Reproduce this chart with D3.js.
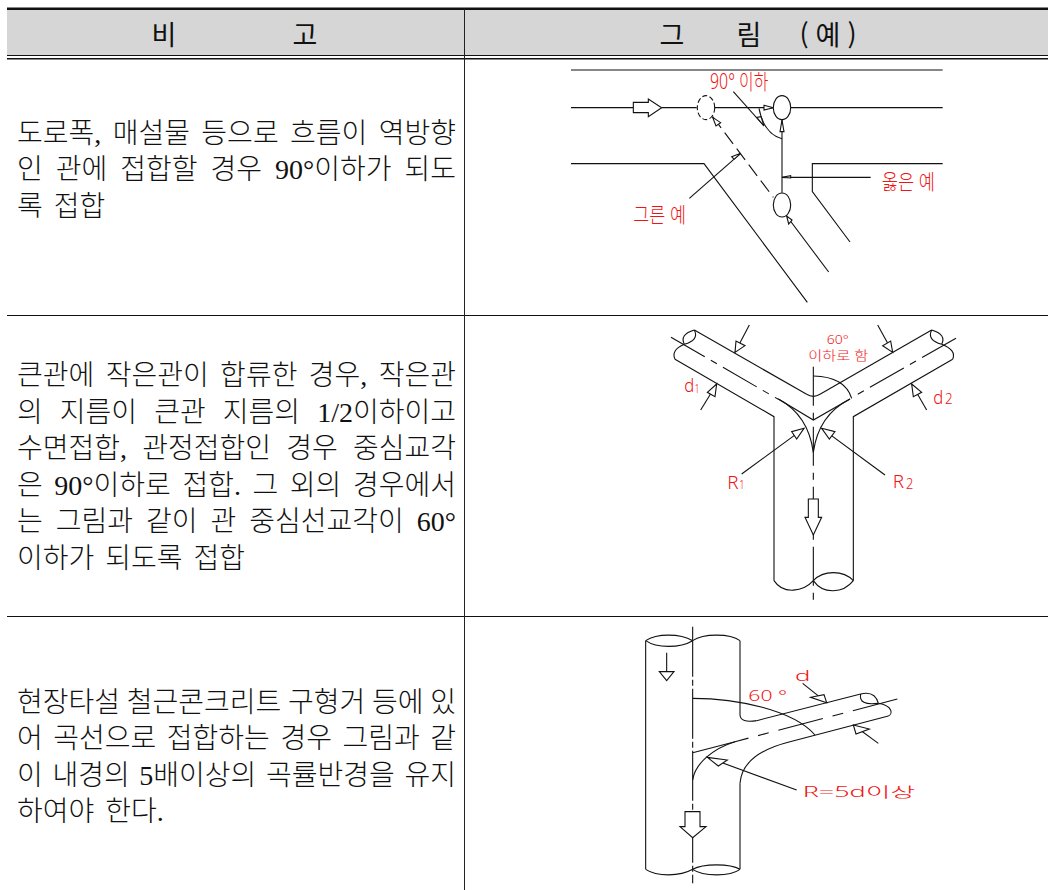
<!DOCTYPE html>
<html lang="ko">
<head>
<meta charset="utf-8">
<script src="https://cdn.jsdelivr.net/npm/d3@7"></script>
<style>
  html, body { margin: 0; padding: 0; background: #fff; }
  svg { display: block; }
  .body-text { font-family: "Liberation Serif", "Noto Sans CJK KR", serif; font-size: 28px; font-weight: 300; fill: #111; }
  .head-text { font-family: "Noto Sans CJK KR", sans-serif; font-size: 27px; font-weight: 400; fill: #111; }
  .label { font-family: "Noto Sans", "Noto Sans CJK KR", sans-serif; font-weight: 300; fill: #f01414; }
  .ink { fill: none; stroke: #111; stroke-width: 1.1; }
  .ink-solid { fill: #fff; stroke: #111; stroke-width: 1.1; }
</style>
</head>
<body>
<div id="chart"></div>
<script>
const width = 1048;
const height = 890;

// table
const tableLeft = 7;
const columnRule = 464;
const rowRules = [316, 617];
const headerLabels = [["비", 164], ["고", 305], ["그", 672], ["림", 749], ["(", 804], ["예", 828], [")", 852]];
const rowLines = [
  { baseline: 142.5, lines: ["도로폭, 매설물 등으로 흐름이 역방향", "인 관에 접합할 경우 90°이하가 되도", "록 접합"] },
  { baseline: 385, lines: ["큰관에 작은관이 합류한 경우, 작은관", "의 지름이 큰관 지름의 1/2이하이고", "수면접합, 관정접합인 경우 중심교각", "은 90°이하로 접합. 그 외의 경우에서", "는 그림과 같이 관 중심선교각이 60°", "이하가 되도록 접합"] },
  { baseline: 711.5, lines: ["현장타설 철근콘크리트 구형거 등에 있", "어 곡선으로 접합하는 경우 그림과 같", "이 내경의 5배이상의 곡률반경을 유지", "하여야 한다."] }
];

// figure 1, in crop units (3 per pixel)
const roadLines = [
  [[33, 30], [1148, 30]],
  [[33, 143], [220, 143]],
  [[305, 143], [410, 143]],
  [[465, 143], [640, 143]],
  [[692, 143], [1148, 143]],
  [[666, 180], [666, 398]],
  [[520, 95], [612, 198]],
  [[33, 311], [432, 311], [742, 727]],
  [[1148, 311], [757, 311], [757, 395], [870, 546]],
  [[680, 468], [806, 636]],
  [[388, 415], [542, 280]],
  [[666, 352], [932, 352]]
];
const roadCurves = [[597, 145, 612, 222, 666, 236]];
const roadDashes = [[[458, 170], [640, 412]]];
const roadHeads = [
  [[220, 127], [265, 127], [265, 117], [305, 143], [265, 170], [265, 158], [220, 158]],
  [[612, 136], [640, 143], [612, 150]],
  [[660, 215], [666, 180], [672, 215]],
  [[590, 172], [612, 198], [603, 170]],
  [[696, 480], [680, 468], [686, 492]],
  [[458, 172], [482, 188], [468, 198]],
  [[515, 290], [542, 280], [522, 298]],
  [[666, 352], [692, 347], [692, 354]]
];
const roadManholes = [[666, 143], [666, 435]];
const roadDashedManholes = [[438, 143]];
const roadLabels = [
  { text: "90° 이하", x: 450, y: 86, w: 175, size: 21 },
  { text: "옳은 예", x: 965, y: 387, w: 160, size: 21 },
  { text: "그른 예", x: 220, y: 485, w: 158, size: 21 }
];

// figure 2
const junctionLines = [
  [[133, 45], [470, 238]],
  [[510, 238], [845, 45]],
  [[75, 133], [372, 305], [372, 797]],
  [[908, 133], [610, 305], [610, 797]],
  [[385, 252], [490, 315], [600, 252]],
  [[298, 30], [255, 112]],
  [[683, 30], [728, 112]],
  [[152, 285], [200, 207]],
  [[830, 285], [785, 207]],
  [[275, 477], [462, 340]],
  [[705, 480], [515, 340]]
];
const junctionCurves = [
  [470, 238, 490, 250, 510, 238],
  [133, 45, 88, 58, 103, 88],
  [133, 45, 148, 75, 103, 88],
  [103, 88, 62, 105, 75, 133],
  [845, 45, 890, 58, 875, 88],
  [845, 45, 830, 75, 875, 88],
  [875, 88, 920, 105, 908, 133],
  [385, 252, 475, 300, 490, 412],
  [600, 252, 505, 300, 490, 412],
  [490, 183, 585, 185, 605, 250],
  [372, 797, 400, 840, 460, 830, 490, 797],
  [490, 797, 520, 765, 580, 765, 610, 797],
  [490, 797, 520, 840, 580, 835, 610, 797]
];
const junctionDashes = [
  [[63, 67], [385, 253]],
  [[918, 70], [610, 245]]
];
const junctionCenter = [[[490, 155], [490, 875]]];
const junctionHeads = [
  [[255, 112], [285, 92], [258, 78]],
  [[728, 112], [698, 92], [722, 78]],
  [[200, 207], [172, 232], [195, 245]],
  [[785, 207], [815, 232], [790, 245]],
  [[462, 340], [425, 350], [440, 372]],
  [[515, 340], [555, 350], [538, 372]],
  [[475, 552], [505, 552], [505, 607], [515, 607], [490, 660], [465, 607], [475, 607]]
];
const junctionLabels = [
  { text: "60°", x: 530, y: 88, w: 66, size: 13 },
  { text: "이하로 함", x: 475, y: 136, w: 180, size: 13 },
  { text: "d", x: 103, y: 232, w: 30, size: 19 },
  { text: "1", x: 134, y: 233, w: 14, size: 12 },
  { text: "d", x: 850, y: 268, w: 30, size: 19 },
  { text: "2", x: 885, y: 268, w: 23, size: 15 },
  { text: "R", x: 232, y: 522, w: 34, size: 19 },
  { text: "1", x: 268, y: 523, w: 16, size: 13 },
  { text: "R", x: 728, y: 520, w: 34, size: 19 },
  { text: "2", x: 768, y: 521, w: 22, size: 15 }
];

// figure 3
const bendLines = [
  [[77, 62], [77, 748]],
  [[360, 62], [360, 285]],
  [[410, 302], [722, 222]],
  [[805, 288], [510, 365]],
  [[360, 490], [360, 748]],
  [[218, 398], [345, 365]],
  [[140, 98], [140, 180]],
  [[548, 190], [620, 248]],
  [[775, 370], [700, 315]],
  [[530, 510], [262, 412]]
];
const bendCurves = [
  [77, 62, 110, 40, 180, 40, 218, 62],
  [77, 62, 110, 85, 180, 85, 218, 62],
  [218, 62, 250, 40, 330, 40, 360, 62],
  [77, 748, 110, 770, 180, 770, 218, 748],
  [218, 748, 250, 730, 330, 730, 360, 748],
  [218, 748, 250, 770, 330, 770, 360, 748],
  [360, 285, 362, 310, 410, 302],
  [722, 222, 765, 212, 775, 250],
  [722, 222, 715, 258, 775, 250],
  [775, 250, 820, 258, 818, 282, 805, 288],
  [510, 365, 430, 385, 365, 420, 360, 490],
  [218, 480, 225, 430, 280, 385, 345, 365],
  [218, 235, 350, 235, 520, 270, 585, 345]
];
const bendCenter = [[[218, 20], [218, 790]]];
const bendDashes = [[[832, 237], [345, 365]]];
const bendHeads = [
  [[118, 155], [162, 155], [140, 182]],
  [[195, 575], [240, 575], [240, 620], [258, 620], [218, 653], [180, 620], [195, 620]],
  [[620, 248], [572, 232], [612, 224]],
  [[700, 315], [748, 327], [708, 342]],
  [[262, 412], [322, 420], [295, 438]]
];
const bendLabels = [
  { text: "d", x: 525, y: 183, w: 46, size: 15 },
  { text: "60 °", x: 385, y: 243, w: 116, size: 14 },
  { text: "R=5d이상", x: 548, y: 530, w: 338, size: 14 }
];

const svg = d3.select("#chart").append("svg")
  .attr("width", width)
  .attr("height", height)
  .attr("viewBox", `0 0 ${width} ${height}`);

// table frame
svg.append("rect").attr("x", tableLeft).attr("y", 9).attr("width", width - tableLeft).attr("height", 46).attr("fill", "#d6d6d6");

const rules = [
  { y: 8.7, w: 2.6 },
  { y: 55.5, w: 1 },
  { y: 58.7, w: 1.4 },
  ...rowRules.map((y) => ({ y: y - 0.5, w: 1 }))
];
svg.append("g").selectAll("line").data(rules).join("line")
  .attr("x1", tableLeft)
  .attr("x2", width)
  .attr("y1", (d) => d.y)
  .attr("y2", (d) => d.y)
  .attr("stroke", "#111")
  .attr("stroke-width", (d) => d.w);

svg.append("line")
  .attr("x1", columnRule + 0.5).attr("x2", columnRule + 0.5)
  .attr("y1", 9).attr("y2", height)
  .attr("stroke", "#222").attr("stroke-width", 1);

svg.append("g").selectAll("text").data(headerLabels).join("text")
  .attr("class", "head-text")
  .attr("x", (d) => d[1])
  .attr("y", 45)
  .attr("text-anchor", "middle")
  .text((d) => d[0]);

// justified body text
const textLeft = 17;
const textRight = 456;
const linePitch = 36.5;
const textGroup = svg.append("g");
rowLines.forEach((row) => {
  row.lines.forEach((line, i) => {
    const t = textGroup.append("text")
      .attr("class", "body-text")
      .attr("x", textLeft)
      .attr("y", row.baseline + i * linePitch)
      .text(line);
    if (i < row.lines.length - 1) {
      const gaps = line.split(" ").length - 1;
      const spare = textRight - textLeft - t.node().getComputedTextLength();
      t.attr("word-spacing", spare / gaps);
    } else {
      t.attr("word-spacing", 4);
    }
  });
});

// one figure = crop coordinates mapped onto the page
function drawFigure(origin, parts) {
  const x = d3.scaleLinear().domain([0, 3]).range([origin[0], origin[0] + 1]);
  const y = d3.scaleLinear().domain([0, 3]).range([origin[1], origin[1] + 1]);
  const g = svg.append("g");
  const line = d3.line().x((d) => x(d[0])).y((d) => y(d[1]));

  const curvePath = (c) => {
    const p = d3.path();
    p.moveTo(x(c[0]), y(c[1]));
    if (c.length === 6) p.quadraticCurveTo(x(c[2]), y(c[3]), x(c[4]), y(c[5]));
    else p.bezierCurveTo(x(c[2]), y(c[3]), x(c[4]), y(c[5]), x(c[6]), y(c[7]));
    return p.toString();
  };

  g.selectAll("path.center").data(parts.center || []).join("path")
    .attr("class", "center ink")
    .attr("stroke-dasharray", parts.centerDash)
    .attr("d", line);
  g.selectAll("path.dash").data(parts.dashes || []).join("path")
    .attr("class", "dash ink")
    .attr("stroke-dasharray", parts.dash)
    .attr("d", line);
  g.selectAll("path.solid").data(parts.lines).join("path")
    .attr("class", "solid ink")
    .attr("d", line);
  g.selectAll("path.curve").data(parts.curves).join("path")
    .attr("class", "curve ink")
    .attr("d", curvePath);
  g.selectAll("path.head").data(parts.heads).join("path")
    .attr("class", "head ink-solid")
    .attr("d", (d) => line(d) + "Z");

  const holes = (parts.manholes || []).map((d) => ({ c: d, dashed: false }))
    .concat((parts.dashedManholes || []).map((d) => ({ c: d, dashed: true })));
  g.selectAll("ellipse").data(holes).join("ellipse")
    .attr("class", "ink-solid")
    .attr("cx", (d) => x(d.c[0]))
    .attr("cy", (d) => y(d.c[1]))
    .attr("rx", 8.7)
    .attr("ry", 12)
    .attr("stroke-dasharray", (d) => (d.dashed ? "5 2.5" : null));

  g.selectAll("text").data(parts.labels).join("text")
    .attr("class", "label")
    .attr("x", (d) => x(d.x))
    .attr("y", (d) => y(d.y))
    .attr("font-size", (d) => d.size)
    .attr("textLength", (d) => d.w / 3)
    .attr("lengthAdjust", "spacingAndGlyphs")
    .text((d) => d.text);
}

drawFigure([560, 60], { lines: roadLines, curves: roadCurves, dashes: roadDashes, dash: "14 6", heads: roadHeads, manholes: roadManholes, dashedManholes: roadDashedManholes, labels: roadLabels });
drawFigure([650, 315], { lines: junctionLines, curves: junctionCurves, dashes: junctionDashes, dash: "39 7 7 7", center: junctionCenter, centerDash: "39 7 7 7", heads: junctionHeads, labels: junctionLabels });
drawFigure([620, 620], { lines: bendLines, curves: bendCurves, dashes: bendDashes, dash: "46 10 11 10", center: bendCenter, centerDash: "50 3 6 3", heads: bendHeads, labels: bendLabels });
</script>
</body>
</html>
